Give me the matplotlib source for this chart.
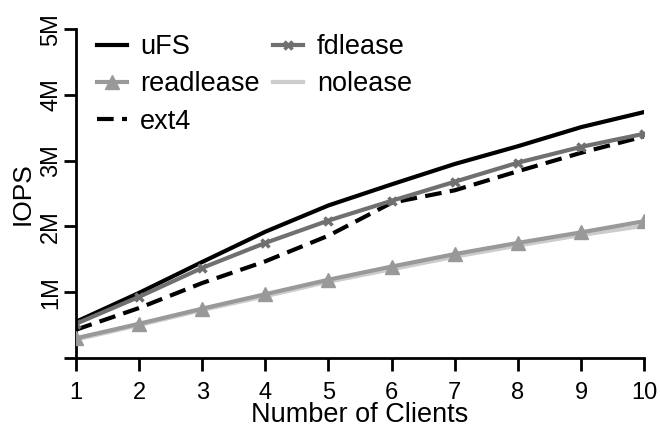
import numpy as np
import matplotlib
matplotlib.use("Agg")
import matplotlib.pyplot as plt
from matplotlib.ticker import FuncFormatter

plt.rcParams['font.family'] = ['Liberation Sans', 'DejaVu Sans']

clients = [1, 2, 3, 4, 5, 6, 7, 8, 9, 10]
# IOPS in millions
ufs = [0.55, 0.99, 1.46, 1.92, 2.32, 2.64, 2.95, 3.22, 3.51, 3.74]
fdlease = [0.52, 0.93, 1.37, 1.75, 2.09, 2.39, 2.68, 2.97, 3.21, 3.41]
ext4 = [0.43, 0.76, 1.14, 1.47, 1.86, 2.36, 2.55, 2.84, 3.12, 3.37]
readlease = [0.30, 0.52, 0.75, 0.97, 1.19, 1.39, 1.58, 1.75, 1.91, 2.08]
nolease = [0.28, 0.50, 0.73, 0.94, 1.16, 1.35, 1.54, 1.71, 1.87, 2.01]

fig = plt.figure(figsize=(6.6, 4.29), dpi=100)
ax = fig.add_axes([0.115, 0.1655, 0.861, 0.7665])

lw = 3
ax.plot(clients, [v * 1e6 for v in ufs], '-', color='black', lw=lw, label='uFS')
ax.plot(clients, [v * 1e6 for v in readlease], '-', color='#999999', lw=lw,
        marker='^', markersize=10, label='readlease', zorder=3)
ax.plot(clients, [v * 1e6 for v in ext4], '--', color='black', lw=lw,
        dashes=(4, 2), label='ext4')
ax.plot(clients, [v * 1e6 for v in fdlease], '-', color='#707070', lw=lw,
        marker='x', markersize=6, markeredgewidth=2.5, label='fdlease')
ax.plot(clients, [v * 1e6 for v in nolease], '-', color='#cccccc', lw=lw,
        label='nolease')

ax.set_xlim(1, 10)
ax.set_ylim(0, 5e6)
ax.set_xticks(clients)
ax.set_yticks([0, 1e6, 2e6, 3e6, 4e6, 5e6])
ax.yaxis.set_major_formatter(FuncFormatter(lambda v, p: '' if v == 0 else '%dM' % (v / 1e6)))

for s in ['top', 'right']:
    ax.spines[s].set_visible(False)
for s in ['left', 'bottom']:
    ax.spines[s].set_linewidth(2)
ax.tick_params(width=2, length=9, direction='out')
ax.tick_params(axis='x', labelsize=17, pad=8)
ax.tick_params(axis='y', labelsize=17, pad=1, labelrotation=90)
for lab in ax.get_yticklabels():
    lab.set_va('center')

ax.set_xlabel('Number of Clients', fontsize=19.5, labelpad=-1)
ax.set_ylabel('IOPS', fontsize=19, labelpad=4)

h, l = ax.get_legend_handles_labels()
ax.legend(h, l, ncol=2, frameon=False, fontsize=19.5, loc='upper left',
          bbox_to_anchor=(0.037, 0.985), borderaxespad=0, borderpad=0,
          handlelength=1.1, handletextpad=0.5, columnspacing=0.5,
          labelspacing=0.42)

fig.savefig('out.png', dpi=100)
